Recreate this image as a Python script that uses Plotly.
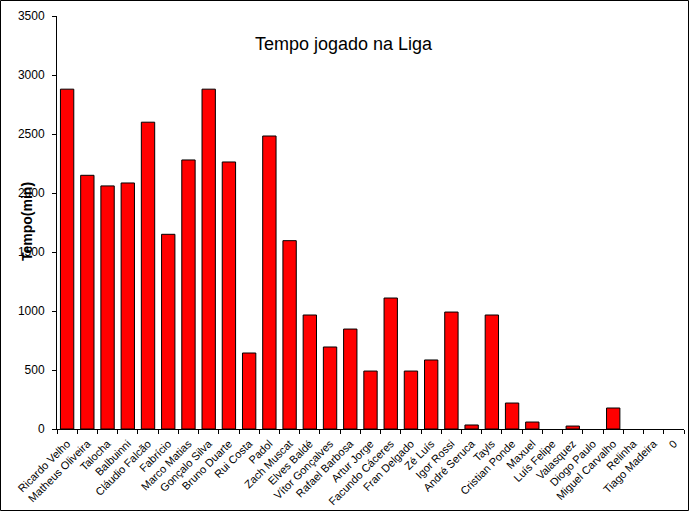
import plotly.graph_objects as go

players = ["Ricardo Velho", "Matheus Oliveira", "Talocha", "Balbuinni", "Cláudio Falcão",
           "Fabrício", "Marco Matias", "Gonçalo Silva", "Bruno Duarte", "Rui Costa",
           "Padol", "Zach Muscat", "Elves Baldé", "Vítor Gonçalves", "Rafael Barbosa",
           "Artur Jorge", "Facundo Cáceres", "Fran Delgado", "Zé Luís", "Igor Rossi",
           "André Seruca", "Tayls", "Cristian Ponde", "Maxuel", "Luís Felipe",
           "Valasquez", "Diogo Paulo", "Miguel Carvalho", "Relinha", "Tiago Madeira", "0"]
minutes = [2880, 2150, 2060, 2085, 2600, 1650, 2280, 2880, 2263, 644,
           2483, 1596, 966, 695, 847, 491, 1110, 491, 585, 991,
           34, 966, 220, 59, 0, 25, 0, 178, 0, 0, 0]
y_ticks = [0, 500, 1000, 1500, 2000, 2500, 3000, 3500]

fig = go.Figure(go.Bar(
    x=list(range(len(players))), y=minutes,
    marker=dict(color="#FF0000",
                line=dict(color="black", width=[1 if v > 0 else 0 for v in minutes])),
    width=0.66,
))

L, R, T, B = 57, 5, 16, 82
pw = 689 - L - R
ph = 511 - T - B

fig.update_layout(
    width=689, height=511,
    margin=dict(l=L, r=R, t=T, b=B, autoexpand=False),
    paper_bgcolor="white", plot_bgcolor="white",
    font=dict(family="Liberation Sans, Arial", color="black", size=12),
    showlegend=False,
    annotations=[
        dict(text="Tempo jogado na Liga", xref="paper", yref="paper",
             x=(344 - L) / pw, y=(429 - 32) / ph,
             showarrow=False, font=dict(size=18)),
        dict(text="<b>Tempo(min)</b>", xref="paper", yref="paper",
             x=(17 - L) / pw, y=(429 - 222) / ph, textangle=-90,
             showarrow=False, font=dict(size=14)),
    ],
    shapes=[dict(type="rect", xref="paper", yref="paper",
                 x0=(0.5 - L) / pw, x1=(688.5 - L) / pw,
                 y0=(429 - 510.5) / ph, y1=(429 - 0.5) / ph,
                 line=dict(color="black", width=1))],
)

fig.update_xaxes(
    automargin=False,
    range=[-0.5, len(players) - 0.5],
    tickmode="array", tickvals=list(range(len(players))), ticktext=players,
    tickangle=-45, tickfont=dict(size=11), ticklabelstandoff=3,
    showline=True, linecolor="black", linewidth=1,
    ticks="", showgrid=False, zeroline=False,
    minor=dict(tickmode="array", tickvals=[i - 0.5 for i in range(len(players) + 1)],
               ticks="outside", ticklen=4, tickcolor="black", showgrid=False),
)
fig.update_yaxes(
    automargin=False,
    range=[0, 3500], tickmode="array", tickvals=y_ticks,
    ticks="outside", ticklen=4, tickcolor="black", ticklabelstandoff=5,
    showline=True, linecolor="black", linewidth=1,
    showgrid=False, zeroline=False, tickfont=dict(size=12),
)

fig.write_html("out.html", post_script="document.body.style.margin='0';",
               config={"displayModeBar": False})
